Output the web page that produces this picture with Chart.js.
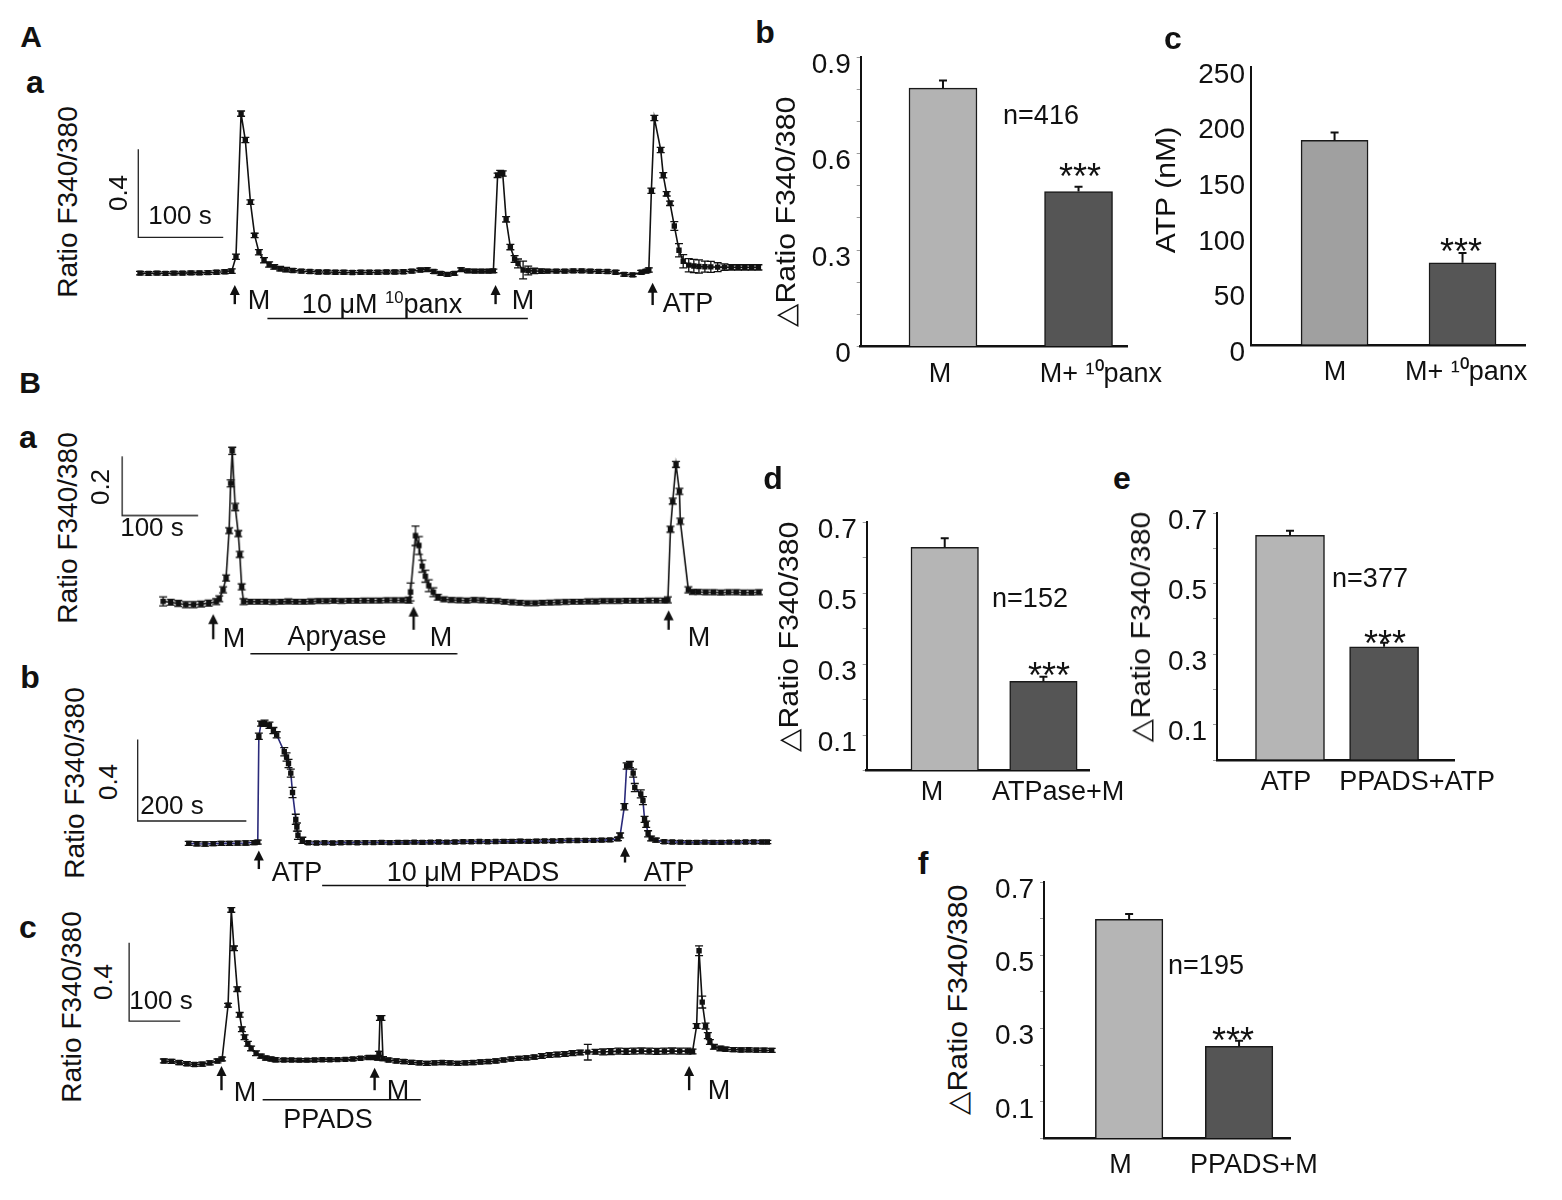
<!DOCTYPE html>
<html>
<head>
<meta charset="utf-8">
<script src="https://cdn.jsdelivr.net/npm/chart.js@4.4.1/dist/chart.umd.min.js"></script>
<style>
  html, body { margin: 0; padding: 0; background: #fff; }
  body { width: 1562px; height: 1200px; position: relative; overflow: hidden;
         font-family: "Liberation Sans", Arial, sans-serif; color: #111; }
  .box { position: absolute; }
  .lbl { position: absolute; white-space: nowrap; line-height: 1; transform: translate(-50%, -50%); }
  .bold { font-weight: bold; }
  .rot { transform: translate(-50%, -50%) rotate(-90deg); }
  .rotw { transform: translate(-50%, -50%) rotate(-90deg) scaleX(1.08); }
  sup { font-size: 0.62em; vertical-align: 0.55em; line-height: 0; }
</style>
</head>
<body>
<script>
// ---- traces (time in s, Ratio F340/380, SEM) ----
const aaTime = [0,10,20,30,40,50,60,70,80,90,100,108,
  113,119,124,130,135,140,146,152,158,165,172,180,190,200,
  210,220,230,240,250,260,270,280,290,300,310,320,330,338,346,354,362,370,378,386,394,402,410,416,
  421,424,427,431,436,441,445,451,457,464,472,480,490,500,510,520,530,540,550,560,570,580,590,596,
  599,602,605.5,613,616,620,624,629,634.5,639.5,646,652,658,665,672,680,688,696,704,712,720,728];
const aaRatio = [0.196,0.195,0.196,0.195,0.196,0.196,0.197,0.197,0.198,0.2,0.202,0.205,
  0.27,0.92,0.8,0.518,0.367,0.291,0.254,0.235,0.224,0.216,0.212,0.208,0.205,0.203,
  0.201,0.201,0.2,0.2,0.199,0.2,0.2,0.2,0.201,0.201,0.202,0.205,0.21,0.212,0.203,0.195,0.19,0.195,0.212,0.206,0.205,0.205,0.205,0.206,
  0.64,0.652,0.648,0.44,0.314,0.26,0.24,0.21,0.208,0.206,0.205,0.205,0.205,0.205,0.206,0.206,0.205,0.204,0.203,0.2,0.19,0.188,0.2,0.205,
  0.21,0.57,0.9,0.755,0.64,0.556,0.513,0.41,0.3,0.25,0.232,0.228,0.226,0.225,0.224,0.223,0.223,0.222,0.222,0.222,0.222,0.222];
const aaSem = [0.008,0.008,0.008,0.008,0.008,0.008,0.008,0.008,0.008,0.008,0.008,0.01,
  0.012,0.012,0.012,0.01,0.01,0.012,0.012,0.012,0.01,0.01,0.01,0.008,0.008,0.008,
  0.008,0.008,0.008,0.008,0.008,0.008,0.008,0.008,0.008,0.008,0.008,0.008,0.008,0.008,0.008,0.008,0.008,0.008,0.008,0.008,0.008,0.008,0.008,0.008,
  0.01,0.01,0.012,0.012,0.012,0.015,0.02,0.04,0.02,0.012,0.01,0.008,0.008,0.008,0.008,0.008,0.008,0.008,0.008,0.008,0.008,0.008,0.008,0.008,
  0.01,0.012,0.012,0.012,0.012,0.01,0.01,0.02,0.03,0.03,0.03,0.03,0.03,0.025,0.025,0.02,0.015,0.012,0.012,0.012,0.012,0.012];

const baTime = [0,10,20,30,40,50,60,70,
  74,79,83,87,89,91,95,99,101,103.5,106,
  115,125,135,145,155,165,175,185,195,205,215,225,235,245,255,265,275,285,295,305,315,
  323.7,326,332.5,337,341.4,345.5,350,356,362,
  370,380,390,400,410,420,430,440,450,460,470,480,490,500,510,520,530,540,550,560,570,580,590,600,610,620,630,640,650,660,
  665,668.4,671.4,675.7,680.2,681.4,692,698,
  705,715,725,735,745,755,765,775,785];
const baRatio = [0.201,0.198,0.194,0.19,0.19,0.192,0.195,0.2,
  0.21,0.24,0.28,0.44,0.6,0.71,0.52,0.43,0.36,0.25,0.2,
  0.2,0.2,0.2,0.199,0.2,0.201,0.2,0.2,0.201,0.202,0.202,0.203,0.202,0.203,0.203,0.204,0.204,0.204,0.205,0.205,0.205,
  0.205,0.233,0.423,0.39,0.32,0.286,0.254,0.232,0.215,
  0.208,0.206,0.205,0.204,0.206,0.205,0.203,0.202,0.2,0.198,0.196,0.195,0.195,0.196,0.197,0.198,0.199,0.2,0.2,0.201,0.201,0.202,0.202,0.202,0.203,0.203,0.203,0.204,0.204,0.204,
  0.206,0.445,0.54,0.664,0.573,0.472,0.24,0.233,
  0.233,0.232,0.232,0.231,0.232,0.232,0.231,0.231,0.232];
const baSem = [0.015,0.01,0.01,0.01,0.01,0.01,0.01,0.01,
  0.01,0.01,0.01,0.01,0.012,0.012,0.012,0.01,0.01,0.01,0.01,
  0.008,0.008,0.008,0.008,0.008,0.008,0.008,0.008,0.008,0.008,0.008,0.008,0.008,0.008,0.008,0.008,0.008,0.008,0.008,0.008,0.008,
  0.01,0.03,0.033,0.03,0.02,0.02,0.02,0.015,0.01,
  0.008,0.008,0.008,0.008,0.008,0.008,0.008,0.008,0.008,0.008,0.008,0.008,0.008,0.008,0.008,0.008,0.008,0.008,0.008,0.008,0.008,0.008,0.008,0.008,0.008,0.008,0.008,0.008,0.008,0.008,
  0.01,0.01,0.01,0.01,0.01,0.01,0.01,0.008,
  0.008,0.008,0.008,0.008,0.008,0.008,0.008,0.008,0.008];

const bbTime = [0,15,30,45,60,75,90,105,120,
  127,129,133,139.5,148.5,155.8,161.8,175.8,180,183.6,187.8,191,197,199,201,209,
  220,235,250,265,280,295,310,325,340,355,370,385,400,415,430,445,460,475,490,505,520,535,550,565,580,595,610,625,640,655,670,685,700,715,730,745,760,775,790,
  794,801.8,806,812,818,821,832,836,839,842,845.5,851,860,
  875,890,905,920,935,950,965,980,995,1010,1025,1040,1055,1065];
const bbRatio = [0.2,0.198,0.197,0.199,0.2,0.2,0.201,0.202,0.204,
  0.206,0.726,0.788,0.79,0.78,0.754,0.733,0.65,0.624,0.592,0.545,0.45,0.318,0.28,0.24,0.215,
  0.203,0.202,0.203,0.202,0.203,0.204,0.203,0.204,0.204,0.205,0.204,0.205,0.205,0.206,0.205,0.206,0.207,0.206,0.207,0.208,0.208,0.209,0.208,0.209,0.21,0.21,0.211,0.21,0.211,0.212,0.212,0.213,0.214,0.214,0.215,0.215,0.216,0.217,0.222,
  0.239,0.38,0.58,0.587,0.545,0.474,0.443,0.41,0.318,0.294,0.247,0.224,0.216,
  0.208,0.207,0.206,0.205,0.205,0.206,0.205,0.205,0.206,0.206,0.207,0.207,0.207,0.207];
const bbSem = [0.01,0.01,0.01,0.01,0.01,0.01,0.01,0.01,0.01,
  0.01,0.015,0.012,0.015,0.015,0.015,0.015,0.02,0.02,0.02,0.02,0.025,0.025,0.02,0.02,0.015,
  0.008,0.008,0.008,0.008,0.008,0.008,0.008,0.008,0.008,0.008,0.008,0.008,0.008,0.008,0.008,0.008,0.008,0.008,0.008,0.008,0.008,0.008,0.008,0.008,0.008,0.008,0.008,0.008,0.008,0.008,0.008,0.008,0.008,0.008,0.008,0.008,0.008,0.008,0.008,
  0.012,0.015,0.015,0.015,0.02,0.02,0.02,0.02,0.015,0.015,0.015,0.012,0.01,
  0.008,0.008,0.008,0.008,0.008,0.008,0.008,0.008,0.008,0.008,0.008,0.008,0.008,0.008];

const bcTime = [0,15,30,45,60,75,90,105,
  114,125.7,132,137.3,143.7,148.4,152.8,158,164.4,170.8,180.5,190,199.8,210,219,
  235,250,265,280,295,310,325,340,355,370,385,400,410,
  419,421,423,426,429,
  440,455,470,485,500,515,530,545,560,575,590,605,620,635,650,665,680,695,710,725,740,755,770,785,800,815,830,845,860,875,890,905,920,935,950,965,980,995,1010,1025,
  1035,1043,1047.8,1054,1060.5,1065,1069,1076.8,1089.6,
  1100,1115,1130,1145,1160,1175,1190];
const bcRatio = [0.2,0.198,0.192,0.186,0.182,0.184,0.19,0.2,
  0.21,0.484,0.97,0.774,0.566,0.435,0.362,0.321,0.288,0.264,0.239,0.225,0.215,0.21,0.206,
  0.205,0.205,0.204,0.204,0.205,0.206,0.206,0.207,0.208,0.21,0.214,0.218,0.218,
  0.215,0.239,0.419,0.419,0.212,
  0.205,0.2,0.197,0.193,0.19,0.188,0.19,0.192,0.19,0.188,0.19,0.192,0.195,0.197,0.2,0.205,0.21,0.213,0.216,0.22,0.225,0.23,0.233,0.236,0.24,0.243,0.245,0.247,0.246,0.248,0.25,0.249,0.25,0.251,0.25,0.249,0.25,0.251,0.25,0.25,
  0.248,0.378,0.762,0.5,0.378,0.329,0.297,0.272,0.264,
  0.26,0.258,0.256,0.257,0.255,0.255,0.254];
const bcSem = [0.01,0.01,0.01,0.01,0.01,0.01,0.01,0.01,
  0.01,0.01,0.012,0.012,0.012,0.012,0.012,0.012,0.012,0.012,0.012,0.01,0.01,0.01,0.01,
  0.008,0.008,0.008,0.008,0.008,0.008,0.008,0.008,0.008,0.008,0.008,0.008,0.008,
  0.01,0.01,0.012,0.012,0.01,
  0.01,0.01,0.01,0.01,0.01,0.01,0.01,0.01,0.01,0.01,0.01,0.01,0.01,0.01,0.01,0.01,0.01,0.01,0.01,0.01,0.012,0.012,0.012,0.012,0.012,0.012,0.04,0.012,0.015,0.015,0.015,0.015,0.015,0.015,0.015,0.015,0.015,0.015,0.015,0.015,
  0.012,0.012,0.025,0.03,0.015,0.015,0.012,0.012,0.012,
  0.01,0.01,0.01,0.01,0.01,0.01,0.01];

// scale bars [t, v, dt, dv], arrows [t, vTop, vBottom], drug bars [t0, t1, v]
const aaScaleBar = [-2, 0.358, 100, 0.4];
const baScaleBar = [-54, 0.491, 100, 0.2];
const bbScaleBar = [-94, 0.31, 200, 0.4];
const bcScaleBar = [-68, 0.403, 100, 0.4];
const aaArrows = [[111.6, 0.142, 0.055], [418.6, 0.142, 0.055], [603.5, 0.152, 0.051]];
const baArrows = [[66, 0.158, 0.073], [330, 0.184, 0.105], [666, 0.171, 0.105]];
const bbArrows = [[129, 0.165, 0.074], [803, 0.184, 0.106]];
const bcArrows = [[112.8, 0.174, 0.051], [412.6, 0.165, 0.051], [1028.4, 0.174, 0.051]];
const aaDrug = [[150, 456.6, -0.01]];
const baDrug = [[115, 387.6, 0.024]];
const bbDrug = [[245.5, 915, -0.007]];
const bcDrug = [[193.4, 503, 0.002]];

// ---- bar summaries ----
const bCats = ['M', 'M+ ¹⁰panx'];
const bMeans = [0.803, 0.482];
const bSem = [0.024, 0.015];
const bTicks = ['0', '0.3', '0.6', '0.9'];
const cCats = ['M', 'M+ ¹⁰panx'];
const cMeans = [184, 74];
const cSem = [7, 8.7];
const cTicks = ['0', '50', '100', '150', '200', '250'];
const dCats = ['M', 'ATPase+M'];
const dMeans = [0.629, 0.251];
const dSem = [0.025, 0.013];
const eCats = ['ATP', 'PPADS+ATP'];
const eMeans = [0.637, 0.321];
const eSem = [0.013, 0.011];
const fCats = ['M', 'PPADS+M'];
const fMeans = [0.598, 0.252];
const fSem = [0.015, 0.015];
const oddTicks = ['0.1', '0.3', '0.5', '0.7'];

Chart.defaults.font.family = '"Liberation Sans", Arial, sans-serif';
Chart.defaults.color = '#111';

function addBox(b) {
  const d = document.createElement('div');
  d.className = 'box';
  d.style.left = b[0] + 'px';
  d.style.top = b[1] + 'px';
  d.style.width = b[2] + 'px';
  d.style.height = b[3] + 'px';
  const c = document.createElement('canvas');
  d.appendChild(c);
  document.body.appendChild(d);
  return c;
}

function traceMarks(p) {
  return {
    id: 'traceMarks',
    afterDatasetsDraw(chart) {
      const ctx = chart.ctx;
      const X = (t) => chart.scales.x.getPixelForValue(t);
      const Y = (v) => chart.scales.y.getPixelForValue(v);
      ctx.save();
      ctx.strokeStyle = '#111';
      ctx.fillStyle = '#111';
      ctx.lineWidth = 1.3;
      p.time.forEach((t, i) => {
        const px = X(t);
        const hi = Y(p.ratio[i] + p.sem[i]);
        const lo = Y(p.ratio[i] - p.sem[i]);
        ctx.beginPath();
        ctx.moveTo(px, hi); ctx.lineTo(px, lo);
        ctx.moveTo(px - 4, hi); ctx.lineTo(px + 4, hi);
        ctx.moveTo(px - 4, lo); ctx.lineTo(px + 4, lo);
        ctx.stroke();
      });
      const sb = p.scaleBar;
      ctx.lineWidth = 1.3;
      ctx.strokeStyle = '#222';
      ctx.beginPath();
      ctx.moveTo(X(sb[0]), Y(sb[1] + sb[3]));
      ctx.lineTo(X(sb[0]), Y(sb[1]));
      ctx.lineTo(X(sb[0] + sb[2]), Y(sb[1]));
      ctx.stroke();
      ctx.lineWidth = 1.6;
      ctx.strokeStyle = '#111';
      p.drug.forEach(([t0, t1, v]) => {
        ctx.beginPath();
        ctx.moveTo(X(t0), Y(v));
        ctx.lineTo(X(t1), Y(v));
        ctx.stroke();
      });
      p.arrows.forEach(([t, vTop, vBot]) => {
        const px = X(t), top = Y(vTop), bot = Y(vBot);
        ctx.lineWidth = 2.4;
        ctx.beginPath();
        ctx.moveTo(px, bot); ctx.lineTo(px, top + 7);
        ctx.stroke();
        ctx.beginPath();
        ctx.moveTo(px, top); ctx.lineTo(px - 5, top + 10); ctx.lineTo(px + 5, top + 10);
        ctx.closePath();
        ctx.fill();
      });
      ctx.restore();
    }
  };
}

function makeTrace(p) {
  const canvas = addBox(p.box);
  new Chart(canvas, {
    type: 'line',
    data: {
      datasets: [{
        data: p.time.map((t, i) => ({ x: t, y: p.ratio[i] })),
        borderColor: p.color,
        borderWidth: 1.6,
        pointStyle: 'rect',
        pointRadius: 3.8,
        pointBackgroundColor: '#111',
        pointBorderWidth: 0,
        tension: 0,
      }],
    },
    options: {
      responsive: true,
      maintainAspectRatio: false,
      animation: false,
      events: [],
      layout: { padding: 0 },
      plugins: { legend: { display: false }, tooltip: { enabled: false } },
      scales: {
        x: { type: 'linear', display: false, min: p.xr[0], max: p.xr[1] },
        y: { display: false, min: p.yr[0], max: p.yr[1] },
      },
    },
    plugins: [traceMarks(p)],
  });
}

makeTrace({ box: [118.8, 92, 653.6, 250.25], xr: [-20, 740], yr: [-0.1, 1.0], color: '#111',
  time: aaTime, ratio: aaRatio, sem: aaSem, scaleBar: aaScaleBar, arrows: aaArrows, drug: aaDrug });
makeTrace({ box: [106.3, 435.25, 667.3, 228.75], xr: [-70, 800], yr: [0, 0.75], color: '#111',
  time: baTime, ratio: baRatio, sem: baSem, scaleBar: baScaleBar, arrows: baArrows, drug: baDrug });
makeTrace({ box: [124.5, 706.9, 654.5, 191.25], xr: [-110, 1080], yr: [-0.05, 0.85], color: '#2a2a7a',
  time: bbTime, ratio: bbRatio, sem: bbSem, scaleBar: bbScaleBar, arrows: bbArrows, drug: bbDrug });
makeTrace({ box: [118.6, 899.8, 661.8, 210.1], xr: [-80, 1200], yr: [-0.03, 1.0], color: '#111',
  time: bcTime, ratio: bcRatio, sem: bcSem, scaleBar: bcScaleBar, arrows: bcArrows, drug: bcDrug });

function semBars(p) {
  return {
    id: 'semBars',
    afterDatasetsDraw(chart) {
      const ctx = chart.ctx;
      const y = chart.scales.y;
      ctx.save();
      ctx.strokeStyle = '#111';
      ctx.lineWidth = 2;
      chart.getDatasetMeta(0).data.forEach((bar, i) => {
        const top = y.getPixelForValue(p.means[i] + p.sem[i]);
        ctx.beginPath();
        ctx.moveTo(bar.x, bar.y); ctx.lineTo(bar.x, top);
        ctx.moveTo(bar.x - 4, top); ctx.lineTo(bar.x + 4, top);
        ctx.stroke();
      });
      ctx.restore();
    }
  };
}

const PAD_TOP = 22;

function makeBars(p) {
  // box is the plot region (left of y scale, top of y max); extend upward for the top tick label
  const canvas = addBox([p.box[0], p.box[1] - PAD_TOP, p.box[2], p.box[3] + PAD_TOP]);
  new Chart(canvas, {
    type: 'bar',
    data: {
      datasets: [{
        data: p.means.map((m, i) => ({ x: p.barAt[i], y: m })),
        backgroundColor: p.colors,
        borderColor: '#1a1a1a',
        borderWidth: 1.5,
        barThickness: p.barW,
      }],
    },
    options: {
      responsive: true,
      maintainAspectRatio: false,
      animation: false,
      events: [],
      layout: { padding: { top: PAD_TOP, right: p.padR } },
      plugins: { legend: { display: false }, tooltip: { enabled: false } },
      scales: {
        x: {
          type: 'linear', min: 0, max: 1, offset: false,
          border: { display: true, color: '#111', width: 2.5 },
          grid: { display: false, drawTicks: false },
          afterBuildTicks: (s) => { s.ticks = p.labelAt.map((v) => ({ value: v })); },
          ticks: { autoSkip: false, maxRotation: 0, padding: p.xPad, font: { size: 27 },
            callback: (v, i) => p.cats[i] },
          afterFit: (s) => { s.height = p.xH; s.paddingLeft = 0; s.paddingRight = 0; },
        },
        y: {
          min: p.range[0], max: p.range[1],
          border: { display: true, color: '#111', width: 2 },
          grid: { drawOnChartArea: false, drawTicks: p.minor, tickLength: 4, color: '#9a9a9a' },
          ticks: {
            stepSize: p.step, autoSkip: false, padding: 6, labelOffset: 8, font: { size: 28 },
            callback: (v) => {
              const s = String(+v.toFixed(2));
              return p.tickLabels.includes(s) ? s : '';
            },
          },
          afterFit: (s) => { s.width = p.yW; s.paddingTop = 0; s.paddingBottom = 0; },
        },
      },
    },
    plugins: [semBars(p)],
  });
}

makeBars({ box: [796, 56.5, 391, 339.5], yW: 64.7, xH: 50, padR: 60, xPad: 12, barW: 68,
  range: [0, 0.9], step: 0.1, minor: true, tickLabels: bTicks,
  cats: bCats, means: bMeans, sem: bSem, barAt: [0.309, 0.818], labelAt: [0.298, 0.902],
  colors: ['#b3b3b3', '#555555'] });
makeBars({ box: [1186, 67, 369, 328], yW: 65, xH: 50, padR: 30, xPad: 11, barW: 67,
  range: [0, 250], step: 50, minor: false, tickLabels: cTicks,
  cats: cCats, means: cMeans, sem: cSem, barAt: [0.305, 0.772], labelAt: [0.307, 0.785],
  colors: ['#a0a0a0', '#565656'] });
makeBars({ box: [806, 521.5, 343, 298.5], yW: 60.7, xH: 50, padR: 60, xPad: 6, barW: 67.5,
  range: [0, 0.7], step: 0.1, minor: true, tickLabels: oddTicks,
  cats: dCats, means: dMeans, sem: dSem, barAt: [0.351, 0.795], labelAt: [0.294, 0.861],
  colors: ['#b5b5b5', '#555555'] });
makeBars({ box: [1156, 513, 358, 297], yW: 61, xH: 50, padR: 60, xPad: 6, barW: 69,
  range: [0, 0.7], step: 0.1, minor: true, tickLabels: oddTicks,
  cats: eCats, means: eMeans, sem: eSem, barAt: [0.308, 0.705], labelAt: [0.291, 0.844],
  colors: ['#b5b5b5', '#555555'] });
makeBars({ box: [981, 881.7, 369, 306.6], yW: 63, xH: 50, padR: 60, xPad: 11, barW: 67.5,
  range: [0, 0.7], step: 0.1, minor: true, tickLabels: oddTicks,
  cats: fCats, means: fMeans, sem: fSem, barAt: [0.346, 0.793], labelAt: [0.311, 0.853],
  colors: ['#b5b5b5', '#555555'] });

// ---- text annotations: [html, x, y, size, class] ----
const ratioLabel = 'Ratio F340/380';
const deltaLabel = '△Ratio F340/380';
const notes = [
  ['A', 31, 37, 30, 'bold'], ['a', 35, 82, 32, 'bold'], ['b', 765, 32, 32, 'bold'], ['c', 1173, 38, 32, 'bold'],
  ['B', 30, 383, 30, 'bold'], ['a', 28, 437, 32, 'bold'], ['b', 30, 677, 32, 'bold'], ['c', 28, 927, 32, 'bold'],
  ['d', 773, 478, 32, 'bold'], ['e', 1122, 478, 32, 'bold'], ['f', 923, 863, 32, 'bold'],
  // A-a
  [ratioLabel, 68, 202, 28, 'rot'], ['0.4', 118, 193, 26, 'rot'], ['100 s', 180, 215, 26, ''],
  ['M', 259, 300, 27, ''], ['10 μM <sup>10</sup>panx', 382, 304, 27, ''], ['M', 523, 300, 27, ''], ['ATP', 688, 303, 27, ''],
  // B-a
  [ratioLabel, 68, 528, 28, 'rot'], ['0.2', 100, 487, 26, 'rot'], ['100 s', 152, 527, 26, ''],
  ['M', 234, 638, 27, ''], ['Apryase', 337, 636, 27, ''], ['M', 441, 637, 27, ''], ['M', 699, 637, 27, ''],
  // B-b
  [ratioLabel, 75, 783, 28, 'rot'], ['0.4', 108, 782, 26, 'rot'], ['200 s', 172, 805, 26, ''],
  ['ATP', 297, 872, 27, ''], ['10 μM PPADS', 473, 872, 27, ''], ['ATP', 669, 872, 27, ''],
  // B-c
  [ratioLabel, 72, 1007, 28, 'rot'], ['0.4', 103, 982, 26, 'rot'], ['100 s', 161, 1000, 26, ''],
  ['M', 245, 1092, 27, ''], ['M', 398, 1090, 27, ''], ['PPADS', 328, 1119, 27, ''], ['M', 719, 1090, 27, ''],
  // bar panels
  [deltaLabel, 786, 212, 28, 'rotw'], ['n=416', 1041, 115, 27, ''], ['***', 1080, 177, 36, ''],
  ['ATP (nM)', 1166, 190, 28, 'rotw'], ['***', 1461, 252, 36, ''],
  [deltaLabel, 789, 637, 28, 'rotw'], ['n=152', 1030, 598, 27, ''], ['***', 1049, 676, 36, ''],
  [deltaLabel, 1141, 627, 28, 'rotw'], ['n=377', 1370, 578, 27, ''], ['***', 1385, 644, 36, ''],
  [deltaLabel, 958, 1000, 28, 'rotw'], ['n=195', 1206, 965, 27, ''], ['***', 1233, 1041, 36, ''],
];
notes.forEach(([html, x, y, size, cls]) => {
  const d = document.createElement('div');
  d.className = 'lbl ' + cls;
  d.style.left = x + 'px';
  d.style.top = y + 'px';
  d.style.fontSize = size + 'px';
  d.innerHTML = html;
  document.body.appendChild(d);
});
</script>
</body>
</html>
